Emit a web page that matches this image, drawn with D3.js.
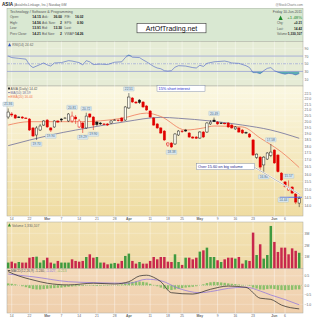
<!DOCTYPE html>
<html lang="en">
<head>
<meta charset="utf-8">
<title>ASIA daily chart</title>
<script src="https://d3js.org/d3.v7.min.js"></script>
<style>
  body { margin: 0; background: #fff; }
  svg { display: block; font-family: "Liberation Sans", Arial, sans-serif; }
  .axis text { fill: #666; }
  .axis path, .axis line { display: none; }
</style>
</head>
<body>
<svg width="320" height="320"></svg>
<script>
// daily bars, Feb 11 2011 .. Jun 10 2011
const openP  = [20.35,20.61,20.52,20.35,20.35,20.26,20.18,19.43,18.86,19.26,19.67,20.09,19.43,19.51,20.01,20.18,20.22,20.01,20.01,20.35,19.51,19.84,19.43,20.61,20.35,19.92,19.84,19.76,19.76,19.84,20.05,20.09,20.26,20.09,21.14,22.05,21.68,21.86,21.68,21.32,20.87,20.26,19.76,19.43,19.18,18.08,18.23,18.16,18.86,19.18,19.26,19.02,18.70,18.70,18.62,19.10,19.10,19.76,20.09,19.92,19.84,19.82,19.84,19.67,19.35,19.43,19.26,19.06,18.94,18.47,17.16,17.18,16.62,17.04,17.30,17.70,17.33,16.06,15.47,14.95,15.14,14.70,14.15];
const highP  = [21.10,20.78,20.61,20.43,20.43,20.35,20.26,19.51,19.59,19.76,20.09,20.18,19.51,20.09,20.09,20.26,20.35,20.69,20.82,20.52,20.18,19.92,20.72,20.69,20.43,20.01,19.92,19.84,19.84,20.09,20.18,20.13,20.35,21.32,22.51,22.14,21.77,21.95,21.77,21.41,20.96,20.35,19.84,19.51,19.26,18.31,18.31,19.02,19.26,19.26,19.35,19.10,18.78,18.78,19.18,19.18,19.92,20.09,20.30,20.01,19.92,19.88,19.92,19.76,19.59,19.51,19.35,19.14,19.02,18.55,17.45,17.26,17.26,17.55,18.16,17.77,17.40,16.13,15.53,15.57,15.20,14.76,14.56];
const lowP   = [20.18,20.35,20.18,20.26,20.18,20.18,19.18,18.70,18.47,19.18,19.59,19.43,19.10,19.43,19.84,19.92,20.18,19.92,19.84,19.76,19.43,19.02,19.35,20.26,19.26,19.59,19.67,19.67,19.59,19.76,20.01,19.97,19.92,20.01,21.05,21.59,21.50,21.50,21.14,20.87,20.26,19.59,19.35,18.94,18.39,17.93,17.85,18.08,18.78,19.02,19.10,18.62,18.55,18.55,18.55,18.62,19.02,19.67,19.92,19.67,19.76,19.72,19.43,19.35,19.26,19.02,18.94,18.98,18.62,17.26,17.04,16.15,16.09,16.97,17.18,16.69,16.09,15.53,15.11,14.90,14.70,14.09,13.91];
const closeP = [20.78,20.52,20.26,20.31,20.26,20.22,19.26,18.78,19.43,19.59,20.01,19.51,19.26,20.01,19.92,20.09,20.26,20.61,20.43,20.18,20.01,19.43,20.43,20.35,19.67,19.71,19.76,19.74,19.67,20.01,20.09,20.05,20.01,21.23,22.14,21.68,21.59,21.63,21.23,20.96,20.35,19.67,19.43,19.02,18.47,18.23,17.93,18.94,19.18,19.14,19.18,18.70,18.62,18.60,19.10,18.70,19.84,19.92,19.97,19.76,19.82,19.79,19.51,19.43,19.51,19.10,19.02,19.04,18.70,17.33,17.40,16.47,17.18,17.48,17.55,16.76,16.15,15.60,15.16,15.10,14.76,14.21,14.42];
// volume, millions of shares
const volM   = [0.49,0.57,0.43,0.54,0.49,0.49,0.91,0.97,1.00,0.49,0.69,0.91,0.49,0.40,0.63,0.49,0.49,0.49,0.77,0.63,0.57,0.63,0.97,1.20,0.91,0.97,0.49,0.49,0.34,0.40,0.46,0.40,0.63,1.06,1.26,0.63,0.40,0.54,0.40,0.40,0.63,0.97,0.77,0.97,0.97,0.57,0.54,1.20,0.54,0.29,0.91,0.91,0.77,0.91,1.43,1.54,1.77,0.97,0.97,0.69,0.54,0.77,0.91,0.91,0.83,0.97,0.40,0.69,0.63,3.06,1.14,2.06,0.83,1.14,3.63,2.26,1.40,1.77,1.77,1.20,1.71,1.50,1.33];
// MACD histogram per day
const macdHist = [0.10,0.08,0.05,0.00,-0.05,-0.10,-0.15,-0.20,-0.22,-0.22,-0.20,-0.18,-0.16,-0.15,-0.13,-0.12,-0.10,-0.08,-0.06,-0.05,-0.04,-0.04,-0.02,-0.02,-0.03,-0.04,-0.03,-0.02,-0.02,-0.01,0.00,0.02,0.05,0.10,0.15,0.18,0.20,0.20,0.18,0.15,0.08,0.02,-0.05,-0.12,-0.18,-0.22,-0.25,-0.22,-0.18,-0.15,-0.12,-0.10,-0.08,-0.05,0.00,0.05,0.12,0.16,0.18,0.17,0.15,0.13,0.10,0.08,0.06,0.04,0.02,0.00,-0.03,-0.12,-0.17,-0.22,-0.23,-0.20,-0.18,-0.20,-0.24,-0.25,-0.26,-0.25,-0.24,-0.22,-0.213];

// indicator lines read at [day, value]
const ma50   = [[0,18.03],[12,18.86],[26,19.61],[33,19.95],[43,20.32],[48,20.24],[57,20.01],[66,19.67],[74,19.26],[82,18.60]];
const ema20  = [[0,19.67],[6,19.95],[20,19.95],[32,20.24],[39,20.69],[43,20.39],[50,19.26],[55,19.43],[58,19.59],[66,19.51],[71,18.62],[77,17.55],[82,16.44]];
const rsi14  = [[0,70],[1,66],[3,64],[5,62],[6,47],[7,40],[9,48],[10,52],[11,47],[12,44],[13,52],[15,53],[17,58],[18,57],[20,53],[21,47],[22,58],[23,55],[24,48],[26,49],[28,48],[30,54],[32,55],[33,66],[34,73],[35,67],[37,66],[38,60],[39,55],[40,49],[41,43],[42,39],[43,37],[44,32],[45,31],[46,32],[47,41],[48,45],[50,44],[52,40],[53,39],[54,46],[55,43],[56,51],[58,55],[61,57],[62,55],[63,52],[65,51],[67,45],[68,40],[69,27],[70,27],[71,24],[72,32],[73,38],[74,40],[75,32],[76,28],[77,25],[78,23],[79,25],[80,24],[81,21],[82,24.62]];
const macdLine   = [[0,0.72],[3,0.49],[7,0.28],[11,0.11],[17,0.02],[24,0.11],[30,0.07],[34,0.19],[37,0.49],[39,0.53],[41,0.42],[43,0.19],[46,-0.39],[52,-0.46],[57,-0.21],[62,-0.04],[67,-0.11],[71,-0.68],[74,-0.74],[77,-1.04],[82,-1.24]];
const signalLine = [[0,0.59],[7,0.45],[17,0.19],[24,0.14],[34,0.11],[39,0.32],[43,0.24],[48,-0.16],[54,-0.39],[58,-0.30],[62,-0.16],[67,-0.10],[71,-0.30],[74,-0.51],[78,-0.75],[82,-1.027]];

// pivot labels [day, text, "h"|"l"]
const pivots = [[0,"21.36","h"],[8,"19.70","l"],[12,"19.90","l"],[18,"20.81","h"],[21,"19.29","l"],[22,"20.72","h"],[24,"19.90","l"],[34,"22.51","h"],[46,"18.38","l"],[58,"20.49","h"],[72,"16.80","l"],[74,"17.58","h"],[79,"15.57","h"]];

// x axis
const tickPos    = [1,6,11,15,20,25,30,34,40,45,49,54,59,64,69,75,78];
const tickLabels = ["14","22","Mar","7","14","21","28","Apr","11","18","25","May","9","16","23","Jun","6"];
const priceTicks = d3.range(14, 22.51, 0.5);
const rsiTicks   = [10,30,50,70,90];
const volTicks   = [1,2,3];
const macdTicks  = [0.5,0.0,-0.5,-1.0];

const quoteRows = [
  ["Open:","14.15","Ask:","36.00","P/E:","16.02"],
  ["High:","14.56","Ask Size:","2","EPS:","0.90"],
  ["Low:","13.91","Bid:","13.30","Last:",""],
  ["Prev Close:","14.21","Bid Size:","2","VWAP:","14.26"]
];
const quoteRight = [["Chg:","+0.21"],["Last:","14.42"],["Volume:","1,330,107"]];

const svg = d3.select("svg");
const L = 7, R = 303;
const rsiP  = {top: 41.5, bot: 86};
const pxP   = {top: 86, bot: 216};
const volP  = {top: 222, bot: 268.3};
const macP  = {top: 268.3, bot: 313};

const x = d3.scaleBand().domain(d3.range(openP.length)).range([6.4, 301]);
const xc = i => x(i) + x.bandwidth() / 2;
const xl = d3.scaleLinear().domain([0, openP.length - 1]).range([xc(0), xc(openP.length - 1)]);
const y = d3.scaleLog().domain([13.8, 23.0]).range([209, 88]);
const yR = d3.scaleLinear().domain([0, 100]).range([83, 44.5]);
const yV = d3.scaleLinear().domain([0, 3]).range([268.3, 233.3]);
const yM = d3.scaleLinear().domain([-1, 0.5]).range([304.3, 275.8]);

const defs = svg.append("defs");
function grad(id, c1, c2) {
  const g = defs.append("linearGradient").attr("id", id).attr("x1", 0).attr("y1", 0).attr("x2", 0).attr("y2", 1);
  g.append("stop").attr("offset", "0%").attr("stop-color", c1);
  g.append("stop").attr("offset", "100%").attr("stop-color", c2);
}
grad("gPrice", "#fbf8e2", "#efdca2");
grad("gVol", "#f3e3b4", "#efd9a6");
grad("gMacd", "#f3d9ba", "#efcfac");

// title line
svg.append("text").attr("x", 2).attr("y", 6).attr("font-size", 4.6).attr("font-weight", "bold").attr("fill", "#222").text("ASIA");
svg.append("text").attr("x", 14).attr("y", 6).attr("font-size", 3.3).attr("fill", "#666").text("(AsiaInfo-Linkage, Inc.) Nasdaq GM");
svg.append("text").attr("x", R).attr("y", 5.5).attr("font-size", 3.2).attr("fill", "#777").attr("text-anchor", "end").text("@StockCharts.com");

// quote box
svg.append("rect").attr("x", L).attr("y", 8.3).attr("width", R - L).attr("height", 33.2)
  .attr("fill", "#d9e8d2").attr("stroke", "#9fb09c").attr("stroke-width", 0.5);
svg.append("text").attr("x", 10).attr("y", 13.2).attr("font-size", 3.7).attr("fill", "#555").text("Technology / Software & Programming");
const colX = [10, 40.8, 42, 62, 64.5, 83.5];
quoteRows.forEach((row, r) => {
  row.forEach((t, c) => {
    svg.append("text").attr("x", colX[c]).attr("y", 18.2 + r * 5.55)
      .attr("font-size", c % 2 ? 3.4 : 3.3)
      .attr("font-weight", c % 2 ? "bold" : "normal")
      .attr("fill", c % 2 ? "#222" : "#555")
      .attr("text-anchor", c % 2 ? "end" : "start")
      .text(t);
  });
});
svg.append("text").attr("x", R - 1).attr("y", 13.2).attr("font-size", 3.4).attr("fill", "#555").attr("text-anchor", "end").text("Friday 10-Jun-2011");
svg.append("path").attr("d", "M278.5,20 L280.6,15.6 L282.7,20 Z").attr("fill", "#1c8a2a");
svg.append("text").attr("x", R - 1).attr("y", 18.6).attr("font-size", 4.3).attr("fill", "#1c8a2a").attr("text-anchor", "end").text("+1.48%");
quoteRight.forEach((row, r) => {
  svg.append("text").attr("x", 277).attr("y", 24 + r * 5.55).attr("font-size", 3.0).attr("fill", "#555").text(row[0]);
  svg.append("text").attr("x", R - 1).attr("y", 24 + r * 5.55).attr("font-size", 3.2).attr("font-weight", "bold").attr("fill", "#222").attr("text-anchor", "end").text(row[1]);
});
svg.append("rect").attr("x", 137).attr("y", 23.3).attr("width", 69).attr("height", 9.5).attr("fill", "#fff").attr("stroke", "#333").attr("stroke-width", 0.6);
svg.append("text").attr("x", 171.5).attr("y", 30.6).attr("font-size", 7).attr("fill", "#111").attr("text-anchor", "middle").text("ArtOfTrading.net");

// panel backgrounds
function panel(p, fill) {
  svg.append("rect").attr("x", L).attr("y", p.top).attr("width", R - L).attr("height", p.bot - p.top)
    .attr("fill", fill).attr("stroke", "#a9a9a0").attr("stroke-width", 0.5);
}
panel(rsiP, "#e6ecd6");
panel(pxP, "url(#gPrice)");
panel(volP, "url(#gVol)");
panel(macP, "url(#gMacd)");

// grid
function vgrid(p) {
  svg.append("g").selectAll("line").data(tickPos).join("line")
    .attr("x1", d => xc(d)).attr("x2", d => xc(d)).attr("y1", p.top).attr("y2", p.bot)
    .attr("stroke", "#fff").attr("stroke-opacity", 0.8).attr("stroke-width", 0.5);
}
function hgrid(vals, sc) {
  svg.append("g").selectAll("line").data(vals).join("line")
    .attr("x1", L).attr("x2", R).attr("y1", d => sc(d)).attr("y2", d => sc(d))
    .attr("stroke", "#fff").attr("stroke-opacity", 0.6).attr("stroke-width", 0.4);
}
[rsiP, pxP, volP, macP].forEach(vgrid);
hgrid(rsiTicks, yR); hgrid(priceTicks, y); hgrid(volTicks, yV); hgrid(macdTicks, yM);

// right axes
function rightAxis(sc, vals, fmt) {
  svg.append("g").attr("class", "axis").attr("transform", "translate(" + (R + 1.5) + ",0)")
    .call(d3.axisRight(sc).tickValues(vals).tickFormat(fmt).tickSize(0).tickPadding(0))
    .selectAll("text").attr("font-size", 3.4).attr("font-family", "Liberation Sans, Arial, sans-serif");
}
rightAxis(yR, rsiTicks, d3.format("d"));
rightAxis(y, priceTicks, d3.format(".1f"));
rightAxis(yV, volTicks, d => d + "M");
rightAxis(yM, macdTicks, d3.format(".1f"));

// bottom date axes
function dateAxis(yy) {
  const g = svg.append("g").attr("class", "axis").attr("transform", "translate(0," + yy + ")")
    .call(d3.axisBottom(x).tickValues(tickPos).tickFormat(d => tickLabels[tickPos.indexOf(d)]).tickSize(0).tickPadding(0));
  g.selectAll("text").attr("font-size", 3.4).attr("font-family", "Liberation Sans, Arial, sans-serif")
    .attr("font-weight", d => isNaN(+tickLabels[tickPos.indexOf(d)]) ? "bold" : "normal")
    .attr("fill", d => isNaN(+tickLabels[tickPos.indexOf(d)]) ? "#111" : "#777");
}
dateAxis(pxP.bot + 1.2);
dateAxis(macP.bot + 1.5);

// RSI
const rsiLine = d3.line().x(d => xl(d[0])).y(d => yR(d[1]));
const lowArea = d3.area().x(d => xl(d[0])).y0(yR(30)).y1(d => yR(Math.min(d[1], 30)));
const highArea = d3.area().x(d => xl(d[0])).y0(yR(70)).y1(d => yR(Math.max(d[1], 70)));
svg.append("path").datum(rsi14).attr("d", lowArea).attr("fill", "#3aa0a8").attr("opacity", 0.8);
svg.append("path").datum(rsi14).attr("d", highArea).attr("fill", "#3aa0a8").attr("opacity", 0.8);
[70, 30].forEach(v => svg.append("line").attr("x1", L).attr("x2", R).attr("y1", yR(v)).attr("y2", yR(v))
  .attr("stroke", "#8c97d0").attr("stroke-width", 0.7));
svg.append("line").attr("x1", L).attr("x2", R).attr("y1", yR(50)).attr("y2", yR(50))
  .attr("stroke", "#8c97d0").attr("stroke-width", 0.6).attr("stroke-dasharray", "3,1,1,1");
svg.append("path").datum(rsi14).attr("d", rsiLine).attr("fill", "none").attr("stroke", "#4a62c8").attr("stroke-width", 0.6);
svg.append("path").attr("d", "M8,46.3 L9.6,43 L11.2,46.3 Z").attr("fill", "#3050c0");
svg.append("text").attr("x", 12.3).attr("y", 46.4).attr("font-size", 3.4).attr("fill", "#666").text("RSI(14) 24.62");

// moving averages
const maLine = d3.line().x(d => xl(d[0])).y(d => y(d[1])).curve(d3.curveMonotoneX);
svg.append("path").datum(ma50).attr("d", maLine).attr("fill", "none").attr("stroke", "#6f6f9a").attr("stroke-width", 0.8);
svg.append("path").datum(ema20).attr("d", maLine).attr("fill", "none").attr("stroke", "#f07a5a").attr("stroke-width", 0.8);

// candles
const days = d3.range(openP.length);
const candleCol = i => (i > 0 && closeP[i] < closeP[i - 1]) ? "#e00000" : "#111";
const bw = 2.3;
const cg = svg.append("g");
cg.selectAll("line").data(days).join("line")
  .attr("x1", xc).attr("x2", xc)
  .attr("y1", i => y(highP[i])).attr("y2", i => y(lowP[i]))
  .attr("stroke", candleCol).attr("stroke-width", 0.5);
cg.selectAll("rect").data(days).join("rect")
  .attr("x", i => xc(i) - bw / 2).attr("width", bw)
  .attr("y", i => y(Math.max(openP[i], closeP[i])))
  .attr("height", i => Math.max(0.6, y(Math.min(openP[i], closeP[i])) - y(Math.max(openP[i], closeP[i]))))
  .attr("fill", i => closeP[i] >= openP[i] ? "#fffdf2" : candleCol(i))
  .attr("stroke", candleCol).attr("stroke-width", 0.45);

// pivot labels
pivots.forEach(([i, t, side]) => {
  const cy = side === "h" ? y(highP[i]) - 4.2 : y(lowP[i]) + 4.2;
  svg.append("rect").attr("x", xc(i) - 5.3).attr("y", cy - 2.1).attr("width", 10.6).attr("height", 4.2)
    .attr("fill", "#dbe8ef").attr("stroke", "#9ab3c4").attr("stroke-width", 0.3).attr("rx", 0.5);
  svg.append("text").attr("x", xc(i)).attr("y", cy + 1.2).attr("font-size", 3.2).attr("fill", "#4a6a84")
    .attr("text-anchor", "middle").text(t);
});

// annotations
svg.append("line").attr("x1", 254).attr("y1", 167).attr("x2", 300).attr("y2", 194.5).attr("stroke", "#fff").attr("stroke-width", 1.6);
svg.append("line").attr("x1", 254).attr("y1", 167).attr("x2", 300).attr("y2", 194.5).attr("stroke", "#777").attr("stroke-width", 0.5);
svg.append("line").attr("x1", xl(76.5)).attr("x2", R - 1).attr("y1", y(14.5)).attr("y2", y(14.5)).attr("stroke", "#3a5cff").attr("stroke-width", 0.8);
svg.append("rect").attr("x", 278).attr("y", y(14.5) + 0.6).attr("width", 10.6).attr("height", 4.2)
  .attr("fill", "#dbe8ef").attr("stroke", "#9ab3c4").attr("stroke-width", 0.3);
svg.append("text").attr("x", 283.3).attr("y", y(14.5) + 3.9).attr("font-size", 3.2).attr("fill", "#4a6a84").attr("text-anchor", "middle").text("14.44");

svg.append("rect").attr("x", 196.5).attr("y", 163.6).attr("width", 58).attr("height", 6).attr("fill", "#fff").attr("stroke", "#6a7aa0").attr("stroke-width", 0.4);
svg.append("text").attr("x", 198).attr("y", 168).attr("font-size", 3.9).attr("fill", "#1a2a8a").text("Over 15.60 on big volume");
svg.append("rect").attr("x", 157).attr("y", 85.5).attr("width", 48).attr("height", 6).attr("fill", "#fff").attr("stroke", "#6a7aa0").attr("stroke-width", 0.4);
svg.append("text").attr("x", 158.5).attr("y", 90).attr("font-size", 3.9).attr("fill", "#1a2ad0").text("15% short interest");

// price legend
svg.append("rect").attr("x", 8).attr("y", 87.5).attr("width", 2).attr("height", 2).attr("fill", "#333");
svg.append("text").attr("x", 10.5).attr("y", 89.6).attr("font-size", 3.3).attr("fill", "#555").text("ASIA (Daily) 14.42");
svg.append("line").attr("x1", 8).attr("x2", 10.3).attr("y1", 92.6).attr("y2", 92.6).attr("stroke", "#6f6f9a").attr("stroke-width", 0.8);
svg.append("text").attr("x", 10.5).attr("y", 93.8).attr("font-size", 3.3).attr("fill", "#6f6f9a").text("MA(50) 18.59");
svg.append("line").attr("x1", 8).attr("x2", 10.3).attr("y1", 96.8).attr("y2", 96.8).attr("stroke", "#f07a5a").attr("stroke-width", 0.8);
svg.append("text").attr("x", 10.5).attr("y", 98).attr("font-size", 3.3).attr("fill", "#f07a5a").text("EMA(20) 16.44");

// volume
svg.append("g").selectAll("rect").data(days).join("rect")
  .attr("x", i => xc(i) - 1.25).attr("width", 2.5)
  .attr("y", i => yV(volM[i])).attr("height", i => yV(0) - yV(volM[i]))
  .attr("fill", i => (i > 0 && closeP[i] < closeP[i - 1]) ? "#c8284c" : "#3f9a3f");
svg.append("path").attr("d", "M7.8,226.6 L9.4,223.3 L11,226.6 Z").attr("fill", "#2d8a2d");
svg.append("text").attr("x", 12).attr("y", 226.6).attr("font-size", 3.4).attr("fill", "#666").text("Volume 1,330,107");

// MACD
svg.append("g").selectAll("rect").data(days).join("rect")
  .attr("x", i => xc(i) - 1.2).attr("width", 2.4)
  .attr("y", i => Math.min(yM(0), yM(macdHist[i])))
  .attr("height", i => Math.abs(yM(macdHist[i]) - yM(0)))
  .attr("fill", "#8cc06a");
svg.append("line").attr("x1", L).attr("x2", R).attr("y1", yM(0)).attr("y2", yM(0)).attr("stroke", "#7aa860").attr("stroke-width", 0.4).attr("stroke-dasharray", "1,1");
const mLine = d3.line().x(d => xl(d[0])).y(d => yM(d[1])).curve(d3.curveMonotoneX);
svg.append("path").datum(signalLine).attr("d", mLine).attr("fill", "none").attr("stroke", "#8a70e0").attr("stroke-width", 0.7);
svg.append("path").datum(macdLine).attr("d", mLine).attr("fill", "none").attr("stroke", "#222").attr("stroke-width", 0.7);
svg.append("line").attr("x1", 7.8).attr("x2", 10.3).attr("y1", 270.6).attr("y2", 270.6).attr("stroke", "#222").attr("stroke-width", 0.8);
const mt = svg.append("text").attr("x", 11).attr("y", 271.8).attr("font-size", 3.3);
mt.append("tspan").attr("fill", "#555").text("MACD(12,26,9) -1.240, ");
mt.append("tspan").attr("fill", "#8a70e0").text("-1.027, ");
mt.append("tspan").attr("fill", "#7ab05a").text("-0.213");
</script>
</body>
</html>
